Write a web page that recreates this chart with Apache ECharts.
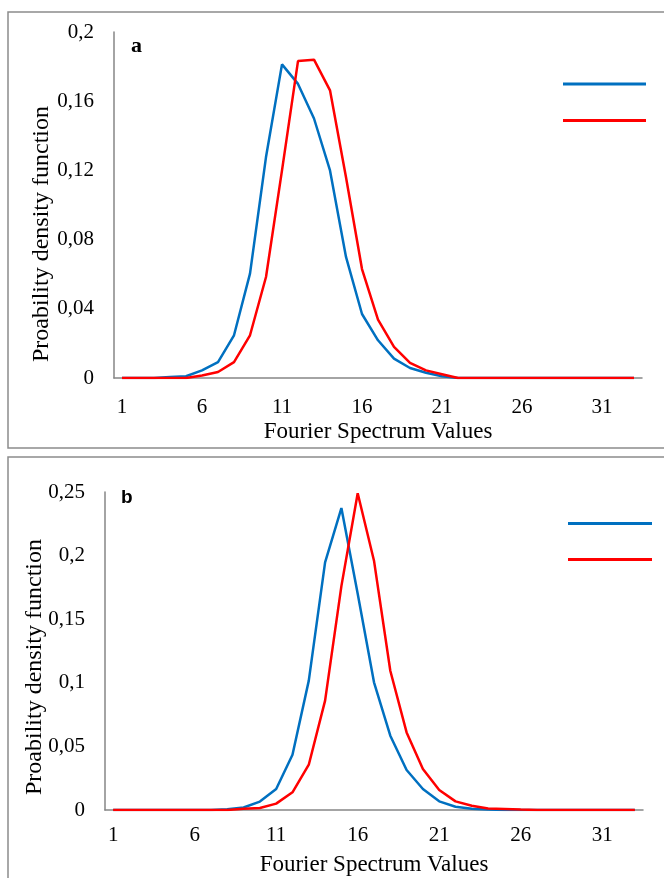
<!DOCTYPE html>
<html>
<head>
<meta charset="utf-8">
<script src="https://cdn.jsdelivr.net/npm/echarts@6/dist/echarts.min.js"></script>
<style>html,body{margin:0;padding:0;background:#fff}#c{width:664px;height:878px}</style>
</head>
<body>
<div id="c"></div>
<script>
// Categories (Fourier spectrum values 1..33)
const categories = ['1','2','3','4','5','6','7','8','9','10','11','12','13','14','15','16','17','18','19','20','21','22','23','24','25','26','27','28','29','30','31','32','33'];

// Panel a
const aBlue = [0,0,0,0.0006,0.001,0.0044,0.0092,0.0247,0.0603,0.1277,0.1813,0.170,0.150,0.120,0.070,0.037,0.0218,0.0112,0.0058,0.003,0.001,0,0,0,0,0,0,0,0,0,0,0,0];
const aRed  = [0,0,0,0,0,0.0015,0.0035,0.0092,0.0247,0.0584,0.120,0.1832,0.184,0.1663,0.116,0.063,0.0337,0.018,0.0087,0.0044,0.0022,0,0,0,0,0,0,0,0,0,0,0,0];

// Panel b
const bBlue = [0,0,0,0,0,0,0,0.0005,0.002,0.0066,0.0165,0.0435,0.1017,0.1947,0.2374,0.170,0.1004,0.0584,0.0314,0.0165,0.0068,0.0026,0.001,0.0003,0,0,0,0,0,0,0,0,0];
const bRed  = [0,0,0,0,0,0,0,0,0.001,0.0016,0.005,0.0139,0.0356,0.086,0.176,0.249,0.196,0.1095,0.061,0.0322,0.0157,0.0068,0.0034,0.0012,0.0008,0.0003,0,0,0,0,0,0,0];

// Axis settings
const aYMax = 0.2, aYStep = 0.04;
const bYMax = 0.25, bYStep = 0.05;
const xLabelEvery = 5;

const serif = '"Liberation Serif", "Times New Roman", serif';
const axisGray = '#868686';
const blue = '#0070C0', red = '#FF0000';
const fmt = v => v === 0 ? '0' : String(+v.toFixed(2)).replace('.', ',');

function xAxisCfg(gridIndex, margin, gap) {
  return {
    type: 'category', gridIndex, data: categories, boundaryGap: true,
    axisLine: {lineStyle: {color: axisGray, width: 1.5}},
    axisTick: {show: false},
    axisLabel: {interval: xLabelEvery - 1, color: '#000', fontFamily: serif, fontSize: 21, margin},
    name: 'Fourier Spectrum Values', nameLocation: 'middle', nameGap: gap, nameMoveOverlap: false,
    nameTextStyle: {color: '#000', fontFamily: serif, fontSize: 23}
  };
}
function yAxisCfg(gridIndex, max, step, gap, shift) {
  return {
    type: 'value', gridIndex, min: 0, max, interval: step,
    axisLine: {show: true, lineStyle: {color: axisGray, width: 1.5}},
    axisTick: {show: false},
    splitLine: {show: false},
    axisLabel: {formatter: fmt, color: '#000', fontFamily: serif, fontSize: 21, margin: 20},
    name: 'Proability density function', nameLocation: 'middle', nameGap: gap, nameRotate: 90,
    nameMoveOverlap: false,
    nameTextStyle: {color: '#000', fontFamily: serif, fontSize: 24, padding: [0, shift, 0, 0]}
  };
}
function lineSeries(name, data, color, idx) {
  return {name, type: 'line', data, xAxisIndex: idx, yAxisIndex: idx, symbol: 'none',
    lineStyle: {color, width: 2.5}, itemStyle: {color}, animation: false, z: color === red ? 3 : 2};
}

const chart = echarts.init(document.getElementById('c'), null, {renderer: 'canvas'});
chart.setOption({
  animation: false,
  backgroundColor: '#fff',
  grid: [
    {left: 114, top: 32, width: 528, height: 346},
    {left: 105, top: 492, width: 538, height: 318}
  ],
  xAxis: [xAxisCfg(0, 19, 42), xAxisCfg(1, 15, 43)],
  yAxis: [yAxisCfg(0, aYMax, aYStep, 60, 58), yAxisCfg(1, bYMax, bYStep, 58, 32)],
  legend: [
    {data: ['a blue', 'a red'], orient: 'vertical', left: 558, top: 77.5, itemWidth: 83, itemHeight: 3,
     itemGap: 33.5, icon: 'rect', formatter: () => '', textStyle: {fontSize: 3, lineHeight: 3}, selectedMode: false},
    {data: ['b blue', 'b red'], orient: 'vertical', left: 563, top: 517, itemWidth: 84, itemHeight: 3,
     itemGap: 33, icon: 'rect', formatter: () => '', textStyle: {fontSize: 3, lineHeight: 3}, selectedMode: false}
  ],
  graphic: [
    {type: 'rect', shape: {x: 8, y: 12, width: 670, height: 436}, style: {fill: 'none', stroke: '#8c8c8c', lineWidth: 1.5}, silent: true, z: -1},
    {type: 'rect', shape: {x: 8, y: 457, width: 670, height: 440}, style: {fill: 'none', stroke: '#8c8c8c', lineWidth: 1.5}, silent: true, z: -1},
    {type: 'text', left: 131, top: 35, style: {text: 'a', font: 'bold 22px "Liberation Serif", serif', fill: '#000'}},
    {type: 'text', left: 121, top: 488, style: {text: 'b', font: 'bold 19px "Liberation Sans", Arial, sans-serif', fill: '#000'}}
  ],
  series: [
    lineSeries('a blue', aBlue, blue, 0),
    lineSeries('a red', aRed, red, 0),
    lineSeries('b blue', bBlue, blue, 1),
    lineSeries('b red', bRed, red, 1)
  ]
});
</script>
</body>
</html>
